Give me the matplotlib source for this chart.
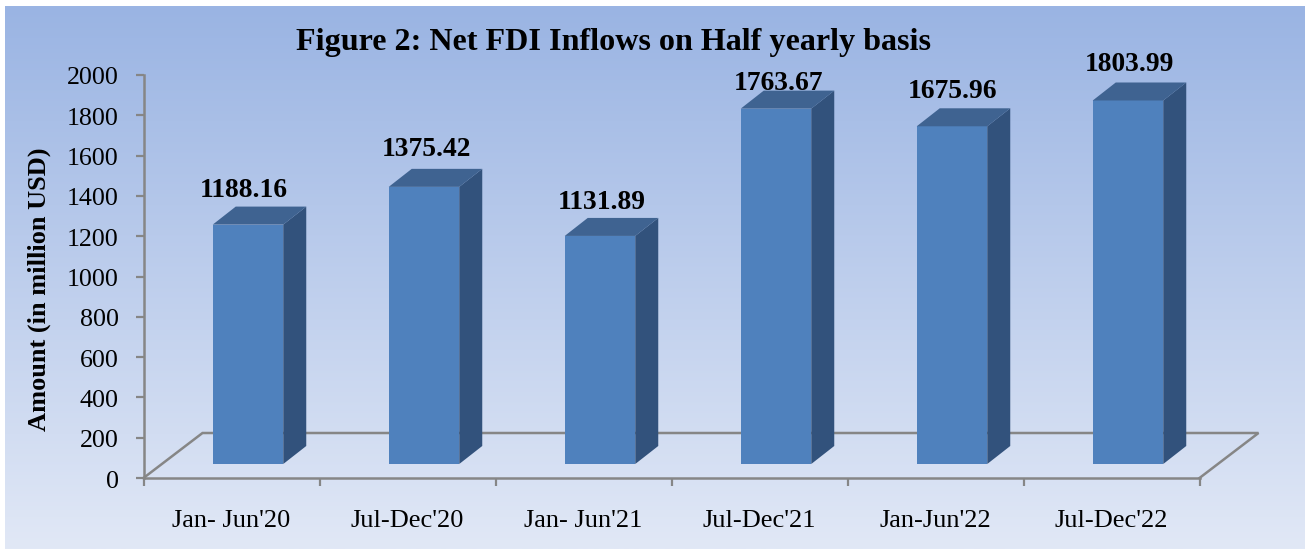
import numpy as np
import matplotlib
matplotlib.use('Agg')
import matplotlib.pyplot as plt
from matplotlib.patches import Polygon
from matplotlib.transforms import ScaledTranslation

categories = ["Jan- Jun'20", "Jul-Dec'20", "Jan- Jun'21", "Jul-Dec'21", "Jan-Jun'22", "Jul-Dec'22"]
values = [1188.16, 1375.42, 1131.89, 1763.67, 1675.96, 1803.99]
yticks = list(range(0, 2001, 200))

# value labels are placed by hand in the original, offsets in pixels from the bar
label_gap = [16, 19, 15, 7, 17, 18]
label_dx = [-4, 2, 2, 2, 1, 1]

W, H = 1305, 549
plt.rcParams['font.family'] = ['Liberation Serif', 'DejaVu Serif']
GREY = '#868686'

fig = plt.figure(figsize=(W / 100, H / 100), dpi=100, facecolor='white')

# background gradient
bg = fig.add_axes([5 / W, 0, (W - 5) / W, (H - 6) / H])
grad = np.linspace(0, 1, 256).reshape(-1, 1, 1)
top = np.array([0x9a, 0xb4, 0xe3]) / 255
bottom = np.array([0xe1, 0xe8, 0xf6]) / 255
bg.imshow(top + (bottom - top) * grad, aspect='auto')
bg.axis('off')

ax = fig.add_axes([143.5 / W, 1 - 478 / H, 1056 / W, 403 / H])
ax.patch.set_alpha(0)
ax.set_xlim(0, 6)
ax.set_ylim(0, 2000)

px_x = 6 / 1056
px_y = 2000 / 403

# floor
floor_dx = 59 * px_x
floor_dy = 45 * px_y
ax.plot([0, floor_dx, 6 + floor_dx, 6], [0, floor_dy, floor_dy, 0],
        color=GREY, lw=1.8, clip_on=False, zorder=1, solid_joinstyle='miter')

# bars
depth_x = 23 * px_x
depth_y = 18 * px_y
base = 14 * px_y
bar_w = 70.5 * px_x
off = 104.5 * px_x - 0.5

for i, v in enumerate(values):
    xc = i + 0.5 + off
    l = xc - bar_w / 2
    r = xc + bar_w / 2
    t = base + v
    ax.annotate(f'{v:.2f}', (xc, t + depth_y), xytext=(label_dx[i] * 0.72, label_gap[i] * 0.72),
                textcoords='offset points', ha='center', va='center',
                fontsize=19.8, fontweight='bold', color='black', zorder=2, annotation_clip=False)
    ax.bar(xc, v, bar_w, bottom=base, color='#4f81bd', zorder=3)
    ax.add_patch(Polygon([(r, base), (r + depth_x, base + depth_y), (r + depth_x, t + depth_y), (r, t)],
                         closed=True, fc='#32527c', ec='none', zorder=3, clip_on=False))
    ax.add_patch(Polygon([(l, t), (l + depth_x, t + depth_y), (r + depth_x, t + depth_y), (r, t)],
                         closed=True, fc='#3f6391', ec='none', zorder=3, clip_on=False))

for s in ['top', 'right']:
    ax.spines[s].set_visible(False)
for s in ['left', 'bottom']:
    ax.spines[s].set_color(GREY)
    ax.spines[s].set_linewidth(1.8)

ax.set_yticks(yticks)
ax.tick_params(axis='y', length=5.8, width=1.6, color=GREY, labelsize=18.7, pad=12, labelcolor='black')
shift = ScaledTranslation(0, -1 / 100, fig.dpi_scale_trans)
for lab in ax.get_yticklabels():
    lab.set_transform(lab.get_transform() + shift)
ax.set_xticks(range(7))
ax.set_xticklabels([])
ax.tick_params(axis='x', length=5.5, width=1.6, color=GREY)
for i, c in enumerate(categories):
    ax.annotate(c, (i + 0.5, 0), xytext=(0, -43 * 0.72), textcoords='offset points',
                ha='center', va='center', fontsize=19, color='black', annotation_clip=False)

fig.text(39 / W, 1 - 289.5 / H, 'Amount (in million USD)', rotation=90, ha='center', va='center',
         fontsize=19, fontweight='bold', color='black')
fig.text(613 / W, 1 - 42.5 / H, 'Figure 2: Net FDI Inflows on Half yearly basis', ha='center', va='center',
         fontsize=23.1, fontweight='bold', color='black')

fig.savefig('out.png', dpi=100)
